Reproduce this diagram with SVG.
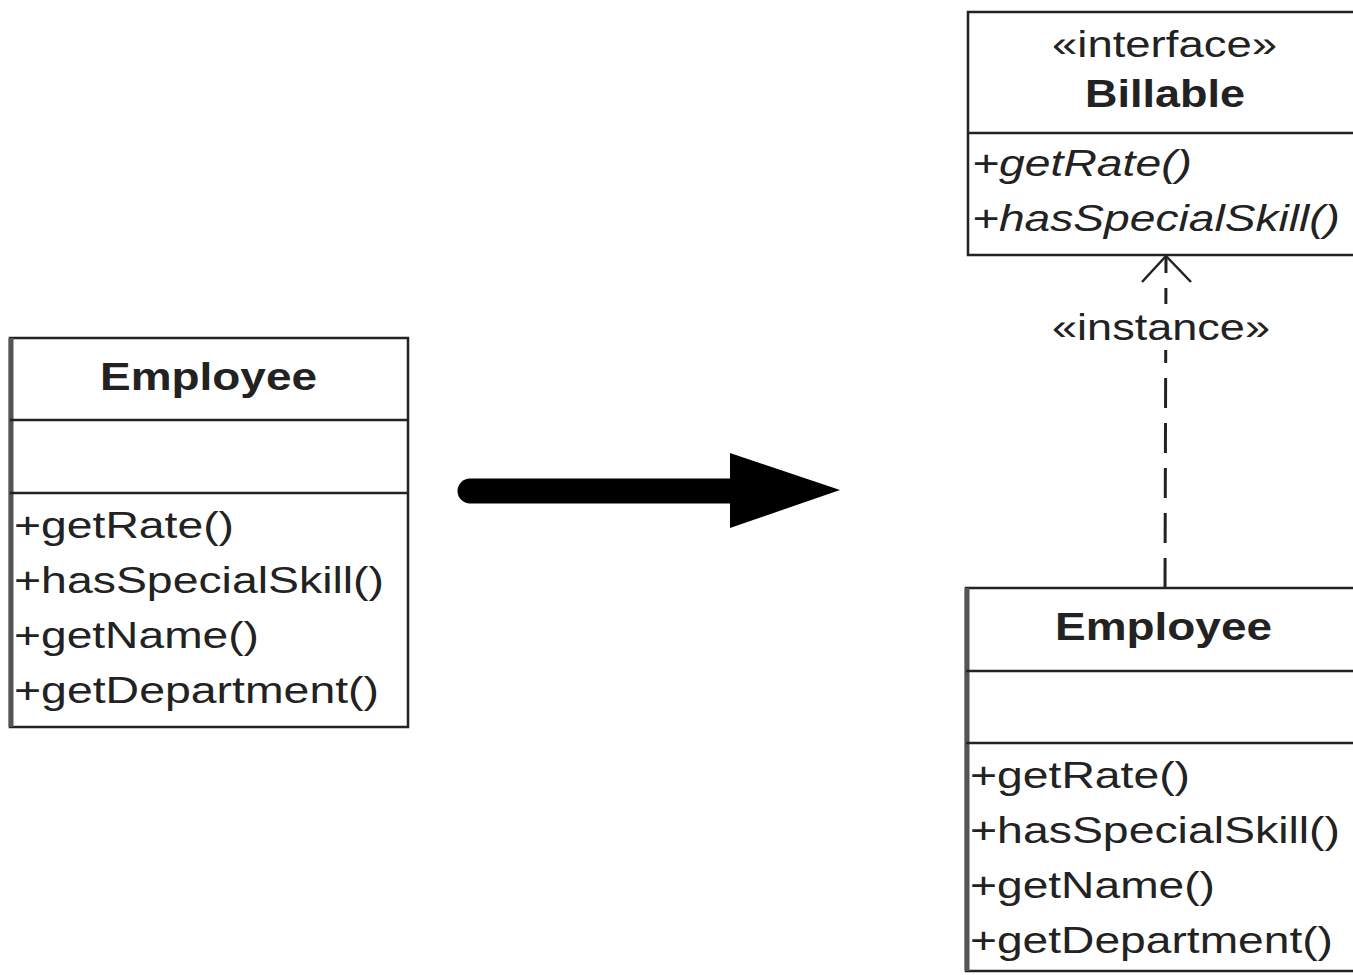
<svg xmlns="http://www.w3.org/2000/svg" width="1353" height="975" viewBox="0 0 1353 975">
<style>
.box{fill:#fff;stroke:#222;stroke-width:2.5}
.lb{stroke:#555;stroke-width:5}
.div{stroke:#222;stroke-width:2.5}
.t{font-family:"Liberation Sans",Arial,sans-serif;fill:#222;font-size:37px}
.h{font-family:"Liberation Sans",Arial,sans-serif;fill:#222;font-size:39px;font-weight:bold}
.i{font-style:italic}
</style>
<rect width="1353" height="975" fill="#fff"/>
<g id="employee-left">
<rect class="box" x="10" y="338" width="398" height="389"/>
<line class="lb" x1="11" y1="338" x2="11" y2="727"/>
<line class="div" x1="10" y1="420" x2="408" y2="420"/>
<line class="div" x1="10" y1="493" x2="408" y2="493"/>
<text class="h" x="100" y="390" textLength="217" lengthAdjust="spacingAndGlyphs">Employee</text>
<text class="t" x="14" y="538" textLength="220" lengthAdjust="spacingAndGlyphs">+getRate()</text>
<text class="t" x="14" y="593" textLength="370" lengthAdjust="spacingAndGlyphs">+hasSpecialSkill()</text>
<text class="t" x="14" y="648" textLength="245" lengthAdjust="spacingAndGlyphs">+getName()</text>
<text class="t" x="14" y="703" textLength="365" lengthAdjust="spacingAndGlyphs">+getDepartment()</text>
</g>
<g id="transform-arrow">
<line x1="470" y1="491" x2="740" y2="491" stroke="#000" stroke-width="25" stroke-linecap="round"/>
<polygon points="730,453 840,490 730,528" fill="#000"/>
</g>
<g id="billable">
<rect class="box" x="968" y="12" width="400" height="243"/>
<line class="div" x1="968" y1="133" x2="1368" y2="133"/>
<text class="t" x="1052" y="57" font-size="35" textLength="225" lengthAdjust="spacingAndGlyphs">«interface»</text>
<text class="h" x="1085" y="107" textLength="160" lengthAdjust="spacingAndGlyphs">Billable</text>
<text class="t i" x="972" y="176" textLength="220" lengthAdjust="spacingAndGlyphs">+getRate()</text>
<text class="t i" x="972" y="231" textLength="368" lengthAdjust="spacingAndGlyphs">+hasSpecialSkill()</text>
</g>
<g id="employee-right">
<rect class="box" x="966" y="588" width="400" height="383"/>
<line class="lb" x1="967" y1="588" x2="967" y2="971"/>
<line class="div" x1="966" y1="671" x2="1366" y2="671"/>
<line class="div" x1="966" y1="743" x2="1366" y2="743"/>
<text class="h" x="1055" y="640" textLength="217" lengthAdjust="spacingAndGlyphs">Employee</text>
<text class="t" x="970" y="788" textLength="220" lengthAdjust="spacingAndGlyphs">+getRate()</text>
<text class="t" x="970" y="843" textLength="370" lengthAdjust="spacingAndGlyphs">+hasSpecialSkill()</text>
<text class="t" x="970" y="898" textLength="245" lengthAdjust="spacingAndGlyphs">+getName()</text>
<text class="t" x="970" y="953" textLength="363" lengthAdjust="spacingAndGlyphs">+getDepartment()</text>
</g>
<g id="connectors">
<line x1="1165" y1="588" x2="1166" y2="258" stroke="#222" stroke-width="3" stroke-dasharray="30,15"/>
<polyline points="1142,282 1166,256 1191,282" fill="none" stroke="#222" stroke-width="2.5"/>
<rect x="1050" y="304" width="222" height="46" fill="#fff"/>
<text class="t" x="1052" y="340" font-size="35" textLength="218" lengthAdjust="spacingAndGlyphs">«instance»</text>
</g>
</svg>
